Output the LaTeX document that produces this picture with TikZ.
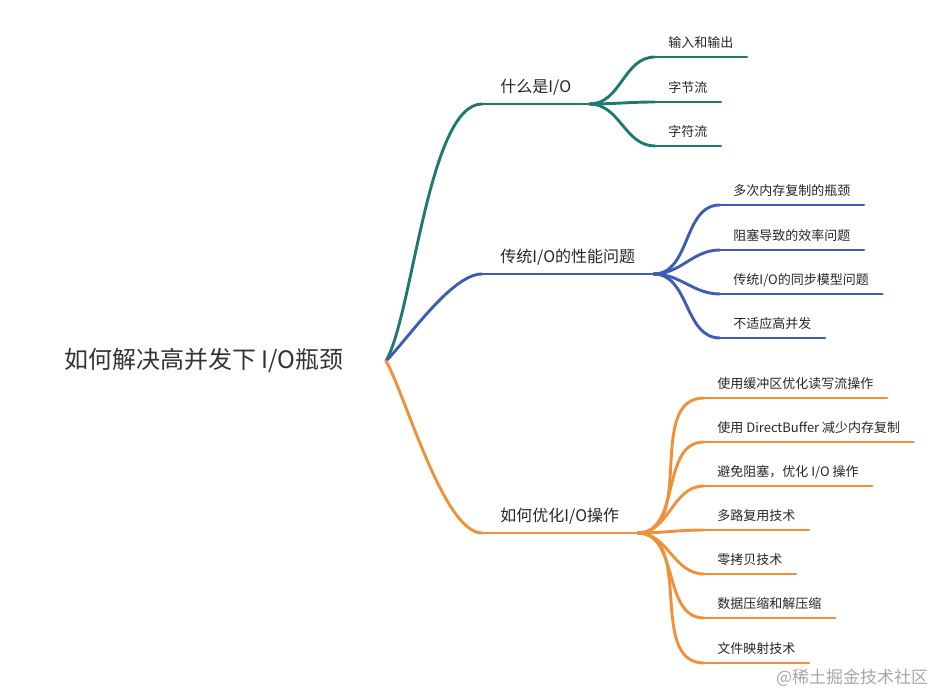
\documentclass[tikz,border=0pt]{standalone}
\usepackage{fontspec}
\setmainfont{Noto Sans CJK SC}
\usetikzlibrary{positioning}
\definecolor{tealbr}{RGB}{31,122,110}
\definecolor{bluebr}{RGB}{63,91,181}
\definecolor{orangebr}{RGB}{240,145,58}

\begin{document}
\begin{tikzpicture}[x=1pt,y=1pt,line width=2.9pt,line cap=round,
  root node/.style={font=\fontsize{24}{28}\selectfont,text=black!80,inner sep=0pt},
  main node/.style={anchor=south west,font=\fontsize{16}{19}\selectfont,text=black!85,
    inner xsep=17pt,inner ysep=10pt,text depth=0pt},
  leaf node/.style={anchor=south west,font=\fontsize{13}{16}\selectfont,text=black!85,
    inner xsep=12pt,inner ysep=8pt,text depth=0pt}]
  \useasboundingbox (0,0) rectangle (934,695);
  \coordinate (R) at (386,334);
  \node[root node, left=41pt of R] (root) {如何解决高并发下 I/O瓶颈};

  \node[main node] (io) at (482,591) {什么是I/O};
  \node[leaf node] (io1) at (655,638) {输入和输出};
  \node[leaf node] (io2) at (655,593) {字节流};
  \node[leaf node] (io3) at (655,549) {字符流};

  \node[main node] (perf) at (482,421) {传统I/O的性能问题};
  \node[leaf node] (perf1) at (720,490) {多次内存复制的瓶颈};
  \node[leaf node] (perf2) at (720,445) {阻塞导致的效率问题};
  \node[leaf node] (perf3) at (720,401) {传统I/O的同步模型问题};
  \node[leaf node] (perf4) at (720,357) {不适应高并发};

  \node[main node] (opt) at (482,162) {如何优化I/O操作};
  \node[leaf node] (opt1) at (704,297) {使用缓冲区优化读写流操作};
  \node[leaf node] (opt2) at (704,253) {使用 DirectBuffer 减少内存复制};
  \node[leaf node] (opt3) at (704,209) {避免阻塞，优化 I/O 操作};
  \node[leaf node] (opt4) at (704,165) {多路复用技术};
  \node[leaf node] (opt5) at (704,121) {零拷贝技术};
  \node[leaf node] (opt6) at (704,77) {数据压缩和解压缩};
  \node[leaf node] (opt7) at (704,32) {文件映射技术};

  \node[font=\fontsize{17}{20}\selectfont,text=black!35,anchor=east] (mark) at (933,17) {@稀土掘金技术社区};

  \foreach \n in {io,io1,io2,io3}
    \draw[tealbr] (\n.south west) -- (\n.south east);
  \foreach \n in {perf,perf1,perf2,perf3,perf4}
    \draw[bluebr] (\n.south west) -- (\n.south east);
  \foreach \n in {opt,opt1,opt2,opt3,opt4,opt5,opt6,opt7}
    \draw[orangebr] (\n.south west) -- (\n.south east);

  \draw[tealbr] (R) edge[out=60,in=180,looseness=0.5] (io.south west)
    (io.south east) edge[out=0,in=180] (io1.south west)
                    edge[out=0,in=180] (io2.south west)
                    edge[out=0,in=180] (io3.south west);
  \draw[bluebr] (R) edge[out=45,in=180,looseness=0.6] (perf.south west)
    (perf.south east) edge[out=0,in=180] (perf1.south west)
                      edge[out=0,in=180] (perf2.south west)
                      edge[out=0,in=180] (perf3.south west)
                      edge[out=0,in=180] (perf4.south west);
  \draw[orangebr] (R) edge[out=-60,in=180,looseness=0.5] (opt.south west)
    (opt.south east) edge[out=0,in=180] (opt1.south west)
                     edge[out=0,in=180] (opt2.south west)
                     edge[out=0,in=180] (opt3.south west)
                     edge[out=0,in=180] (opt4.south west)
                     edge[out=0,in=180] (opt5.south west)
                     edge[out=0,in=180] (opt6.south west)
                     edge[out=0,in=180] (opt7.south west);
\end{tikzpicture}
\end{document}
